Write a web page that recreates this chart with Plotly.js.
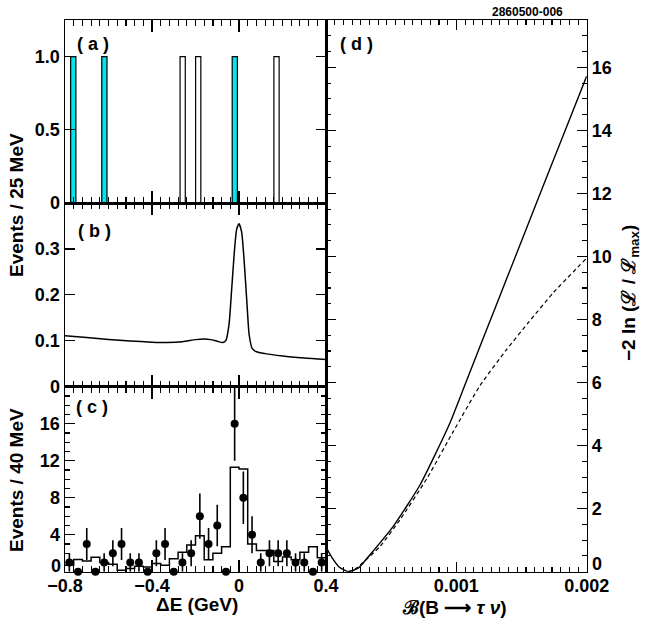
<!DOCTYPE html>
<html><head><meta charset="utf-8">
<script src="https://cdn.plot.ly/plotly-3.0.1.min.js"></script>
<style>html,body{margin:0;padding:0;background:#fff}</style>
</head><body><div id="chart" style="width:650px;height:625px"></div>
<script>
// ---- Panel (a): candidate events, 25 MeV bins ----
const aCenters = [-0.762, -0.619, -0.259, -0.1875, -0.0193, 0.1725];
const aCounts  = [1, 1, 1, 1, 1, 1];
const aSignal  = [true, true, false, false, true, false];
const aBinWidth = 0.024;

// ---- Panel (b): expected shape ----
const bX = [-0.80, -0.70, -0.60, -0.50, -0.40, -0.33, -0.26, -0.20, -0.16, -0.13, -0.10, -0.075, -0.06, -0.046, -0.034, -0.022, -0.011, 0.0, 0.012, 0.024, 0.037, 0.047, 0.061, 0.08, 0.12, 0.20, 0.30, 0.40];
const bY = [0.111, 0.107, 0.103, 0.0995, 0.097, 0.0962, 0.098, 0.1025, 0.104, 0.1025, 0.099, 0.0962, 0.101, 0.135, 0.21, 0.29, 0.342, 0.355, 0.337, 0.272, 0.178, 0.112, 0.083, 0.076, 0.072, 0.067, 0.0625, 0.059];

// ---- Panel (c): data points and histogram, 40 MeV bins ----
const cCenters = [-0.78, -0.74, -0.70, -0.66, -0.62, -0.58, -0.54, -0.50, -0.46, -0.42, -0.38, -0.34, -0.30, -0.26, -0.22, -0.18, -0.14, -0.10, -0.06, -0.02, 0.02, 0.06, 0.10, 0.14, 0.18, 0.22, 0.26, 0.30, 0.34, 0.38];
const cCounts  = [1, 0, 3, 0, 1, 2, 3, 1, 1, 0, 2, 3, 0, 1, 2, 6, 3, 5, 0, 16, 8, 4, 1, 2, 2, 2, 1, 1, 0, 1];
const cErrors  = [1, 0, 1.73, 0, 1, 1.41, 1.73, 1, 1, 0, 1.41, 1.73, 0, 1, 1.41, 2.45, 1.73, 2.24, 0, 4, 2.83, 2, 1, 1.41, 1.41, 1.41, 1, 1, 0, 1];
const cHist    = [0.7, 1.33, 1.15, 1.55, 1.0, 0.8, 0.15, 0.35, 0.6, 0.5, 0.9, 0.7, 1.4, 2.1, 2.9, 3.9, 1.3, 2.0, 2.7, 11.3, 11.1, 3.0, 2.3, 2.3, 1.1, 1.6, 1.3, 2.1, 2.7, 1.5];
const cBinHalf = 0.02;

// ---- Panel (d): likelihood curves ----
const dSolidX = [0, 0.00005, 0.0001, 0.00017, 0.00025, 0.000338, 0.000516, 0.000721, 0.00095, 0.0011, 0.0013, 0.0015, 0.0017, 0.00185, 0.002];
const dSolidY = [0.78, 0.42, 0.15, 0.0, 0.12, 0.54, 1.44, 2.75, 4.71, 6.29, 8.39, 10.49, 12.59, 14.15, 15.72];
const dDashX  = [0.00017, 0.00022, 0.000284, 0.000414, 0.000568, 0.000773, 0.000977, 0.001181, 0.001386, 0.001552, 0.001744, 0.002];
const dDashY  = [0.0, 0.07, 0.29, 0.8, 1.65, 2.95, 4.45, 5.9, 7.05, 7.9, 8.85, 9.95];

// ---- build traces ----
const cyan = '#00e5ee';
const histX = [], histY = [];
cCenters.forEach((c, i) => { histX.push(c - cBinHalf, c + cBinHalf); histY.push(cHist[i], cHist[i]); });

const traces = [
  {type: 'bar', x: aCenters, y: aCounts, width: aBinWidth, xaxis: 'x', yaxis: 'y',
   marker: {color: aSignal.map(s => s ? cyan : '#ffffff'), line: {color: '#000', width: 1.2}}},
  {type: 'scatter', mode: 'lines', x: bX, y: bY, xaxis: 'x2', yaxis: 'y2', line: {color: '#000', width: 1.5, shape: 'spline', smoothing: 0.6}},
  {type: 'scatter', mode: 'lines', x: histX, y: histY, xaxis: 'x3', yaxis: 'y3', line: {color: '#000', width: 1.5}},
  {type: 'scatter', mode: 'markers', x: cCenters, y: cCounts, xaxis: 'x3', yaxis: 'y3', cliponaxis: false,
   marker: {color: '#000', size: 8}, error_y: {type: 'data', array: cErrors, visible: true, color: '#000', thickness: 1.6, width: 0}},
  {type: 'scatter', mode: 'lines', x: dSolidX, y: dSolidY, xaxis: 'x4', yaxis: 'y4', line: {color: '#000', width: 1.4, shape: 'spline', smoothing: 0.5}},
  {type: 'scatter', mode: 'lines', x: dDashX, y: dDashY, xaxis: 'x4', yaxis: 'y4', line: {color: '#000', width: 1.2, dash: '4px,3px', shape: 'spline', smoothing: 0.5}}
];

const W = 650, H = 625;
const xL0 = 65 / W, xL1 = 326 / W, xR1 = 586.7 / W;
const yA = [1 - 203 / H, 1 - 20 / H];
const yB = [1 - 386.7 / H, 1 - 203 / H];
const yC = [1 - 571.7 / H, 1 - 386.7 / H];
const yD = [1 - 571.7 / H, 1 - 20 / H];

const base = {showline: true, linecolor: '#000', linewidth: 1.5, mirror: 'ticks', ticks: 'inside',
  tickcolor: '#000', tickwidth: 1.2, showgrid: false, zeroline: false, fixedrange: true};
const leftX = (anchor, labels) => Object.assign({}, base, {domain: [xL0, xL1], range: [-0.8, 0.4], anchor: anchor,
  tickvals: [-0.8, -0.4, 0, 0.4], ticktext: ['\u22120.8', '\u22120.4', '0', '0.4'], showticklabels: labels, ticklen: 12,
  ticklabelstandoff: -3,
  minor: {dtick: 0.04, tick0: 0, ticklen: 6, tickwidth: 1.2, tickcolor: '#000', ticks: 'inside'}});

function ann(text, px, py, size, angle, xanchor) {
  const a = {text: text, x: px / W, y: 1 - py / H, xref: 'paper', yref: 'paper', showarrow: false,
    xanchor: xanchor || 'center', yanchor: 'middle', font: {size: size}};
  if (angle) a.textangle = angle;
  return a;
}

const layout = {
  width: W, height: H, margin: {l: 0, r: 0, t: 0, b: 0}, showlegend: false,
  paper_bgcolor: '#fff', plot_bgcolor: '#fff', bargap: 0,
  font: {family: 'Liberation Sans, Arial, sans-serif', size: 18, color: '#000', weight: 'bold'},
  xaxis: leftX('y', false),
  xaxis2: leftX('y2', false),
  xaxis3: leftX('y3', true),
  xaxis4: Object.assign({}, base, {domain: [xL1, xR1], range: [0, 0.002], anchor: 'y4',
    tickvals: [0.001, 0.002], ticktext: ['0.001', '0.002'], ticklen: 10, ticklabelstandoff: -3,
    minor: {dtick: 0.0000667, tick0: 0, ticklen: 5, tickwidth: 1.1, tickcolor: '#000', ticks: 'inside'}}),
  yaxis: Object.assign({}, base, {domain: yA, range: [0, 1.25], anchor: 'x', tickvals: [0, 0.5, 1], ticktext: ['0', '0.5', '1.0'], ticklen: 10}),
  yaxis2: Object.assign({}, base, {domain: yB, range: [0, 0.4], anchor: 'x2', tickvals: [0, 0.1, 0.2, 0.3], ticktext: ['0', '0.1', '0.2', '0.3'], ticklen: 10}),
  yaxis3: Object.assign({}, base, {domain: yC, range: [0, 20], anchor: 'x3', tickvals: [0, 4, 8, 12, 16], ticktext: ['', '4', '8', '12', '16'], ticklen: 10,
    minor: {dtick: 1, tick0: 0, ticklen: 5, tickwidth: 1.1, tickcolor: '#000', ticks: 'inside'}}),
  yaxis4: Object.assign({}, base, {domain: yD, range: [0, 17.5], anchor: 'x4', side: 'right',
    tickvals: [0, 2, 4, 6, 8, 10, 12, 14, 16], ticktext: ['', '2', '4', '6', '8', '10', '12', '14', '16'], ticklen: 10,
    minor: {dtick: 0.5, tick0: 0, ticklen: 5, tickwidth: 1.1, tickcolor: '#000', ticks: 'inside'}}),
  annotations: [
    ann('( a )', 93, 44, 18),
    ann('( b )', 94, 231, 18),
    ann('( c )', 92, 407, 18),
    ann('( d )', 356, 44, 18),
    ann('2860500-006', 527, 12, 12),
    ann('Events / 25 MeV', 16, 205, 19, -90),
    ann('Events / 40 MeV', 16, 480, 19, -90),
    ann('\u22122 ln (\u2112 / \u2112<sub>max</sub>)', 630, 293, 19, -90),
    ann('\u0394E (GeV)', 197, 604, 19),
    ann('\u212C(B \u27F6 <i>\u03C4 \u03BD</i>)', 454, 607, 19),
    ann('0', 63, 566, 18, 0, 'right'),
    ann('0', 590, 564, 18, 0, 'left')
  ]
};

Plotly.newPlot('chart', traces, layout, {staticPlot: true, displayModeBar: false});
</script>
</body></html>
